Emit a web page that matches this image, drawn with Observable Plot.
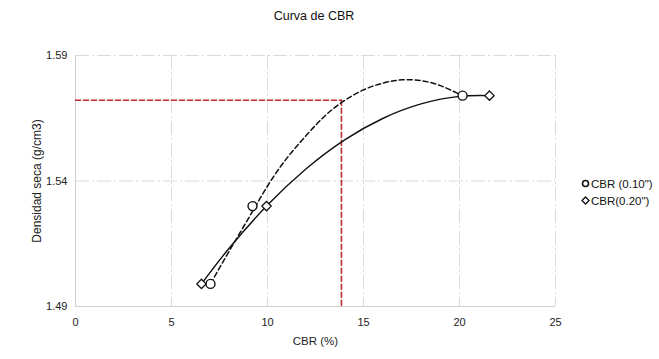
<!DOCTYPE html>
<html>
<head>
<meta charset="utf-8">
<script src="https://cdn.jsdelivr.net/npm/d3@7"></script>
<script src="https://cdn.jsdelivr.net/npm/@observablehq/plot@0.6"></script>
<style>
  html, body { margin: 0; padding: 0; background: #fff; width: 659px; height: 359px; overflow: hidden; }
  body { font-family: "Liberation Sans", Arial, sans-serif; position: relative; }
  #title { position: absolute; left: 0; top: 9px; width: 628px; text-align: center; font-size: 12.5px; color: #111; }
  #chart { position: absolute; left: 0; top: 35px; }
  #legend { position: absolute; left: 581px; top: 175px; font-size: 11.5px; color: #111; white-space: nowrap; }
  #legend div { height: 17px; display: flex; align-items: center; }
  #legend svg { margin-right: 1px; }
</style>
</head>
<body>
<div id="title">Curva de CBR</div>
<div id="chart"></div>
<div id="legend"></div>
<script>
// Measured points
const cbr010 = [7.03, 9.22, 20.16];          // CBR (0.10") x, %
const dens010 = [1.499, 1.530, 1.574];       // dry density g/cm3
const cbr020 = [6.56, 9.95, 21.56];          // CBR (0.20") x, %
const dens020 = [1.499, 1.530, 1.574];

// Trend curves
const trend010X = [7.03, 8, 9, 10, 11, 12, 13, 14, 15, 16, 17, 18, 19, 20.16];
const trend010Y = [1.499, 1.512, 1.525, 1.538, 1.549, 1.558, 1.566, 1.572, 1.5763, 1.579, 1.5803, 1.580, 1.578, 1.574];
const trend020X = [6.56, 8, 10, 12, 14, 16, 18, 20, 21.56];
const trend020Y = [1.499, 1.5132, 1.5304, 1.5448, 1.5563, 1.5649, 1.5707, 1.5737, 1.5740];

// Reference (red) lines
const refCBR = 13.85;
const refDens = 1.5722;

const xTicks = [0, 5, 10, 15, 20, 25];
const yTicks = [1.49, 1.54, 1.59];
const legendLabels = ['CBR (0.10")', 'CBR(0.20")'];

const pts010 = cbr010.map((x, i) => ({x, y: dens010[i]}));
const pts020 = cbr020.map((x, i) => ({x, y: dens020[i]}));
const tr010 = trend010X.map((x, i) => ({x, y: trend010Y[i]}));
const tr020 = trend020X.map((x, i) => ({x, y: trend020Y[i]}));

const chart = Plot.plot({
  width: 659,
  height: 324,
  marginLeft: 75,
  marginRight: 104,
  marginTop: 20,
  marginBottom: 53,
  style: { fontFamily: '"Liberation Sans", Arial, sans-serif', fontSize: "11px", color: "#222", background: "#fff" },
  x: { domain: [0, 25], ticks: xTicks, tickSize: 0, tickPadding: 12, label: null },
  y: { domain: [1.49, 1.59], ticks: yTicks, tickSize: 0, tickPadding: 8, tickFormat: d => d.toFixed(2), label: null },
  marks: [
    Plot.gridX(xTicks, { stroke: "#dadada", strokeOpacity: 1, strokeDasharray: "14,3,2,3" }),
    Plot.gridY(yTicks, { stroke: "#dadada", strokeOpacity: 1, strokeDasharray: "14,3,2,3" }),
    Plot.ruleX([0], { stroke: "#cfcfcf" }),
    Plot.ruleY([1.49], { stroke: "#cfcfcf" }),
    Plot.axisX({ ticks: xTicks, tickSize: 0, tickPadding: 12, label: null }),
    Plot.axisY({ ticks: yTicks, tickSize: 0, tickPadding: 8, tickFormat: d => d.toFixed(2), label: null }),
    Plot.text(["CBR (%)"], { frameAnchor: "bottom", dy: 38, fontSize: 11.5 }),
    Plot.text(["Densidad seca (g/cm3)"], { frameAnchor: "left", textAnchor: "middle", dx: -38, rotate: -90, fontSize: 12 }),
    // red reference lines
    Plot.line([{x: 0, y: refDens}, {x: refCBR, y: refDens}], { x: "x", y: "y", stroke: "#c0282d", strokeWidth: 1.6, strokeDasharray: "5,3" }),
    Plot.line([{x: refCBR, y: refDens}, {x: refCBR, y: 1.49}], { x: "x", y: "y", stroke: "#c0282d", strokeWidth: 1.6, strokeDasharray: "5,3" }),
    // trend lines
    Plot.line(tr010, { x: "x", y: "y", curve: "natural", stroke: "#111", strokeWidth: 1.5, strokeDasharray: "5,3" }),
    Plot.line(tr020, { x: "x", y: "y", curve: "natural", stroke: "#111", strokeWidth: 1.4 }),
    // points
    Plot.dot(pts010, { x: "x", y: "y", symbol: "circle", r: 4.5, stroke: "#111", strokeWidth: 1.4, fill: "white" }),
    Plot.dot(pts020, { x: "x", y: "y", symbol: "diamond2", r: 4.2, stroke: "#111", strokeWidth: 1.3, fill: "white" })
  ]
});
document.getElementById("chart").appendChild(chart);

// Legend
const leg = document.getElementById("legend");
const symbols = [
  '<svg width="9" height="9" viewBox="-4.5 -4.5 9 9"><circle r="3" fill="none" stroke="#111" stroke-width="1.6"/></svg>',
  '<svg width="9" height="9" viewBox="-4.5 -4.5 9 9"><path d="M0,-3.5L3.5,0L0,3.5L-3.5,0Z" fill="none" stroke="#111" stroke-width="1.3"/></svg>'
];
legendLabels.forEach((t, i) => {
  const d = document.createElement("div");
  d.innerHTML = symbols[i];
  d.appendChild(document.createTextNode(t));
  leg.appendChild(d);
});
</script>
</body>
</html>
